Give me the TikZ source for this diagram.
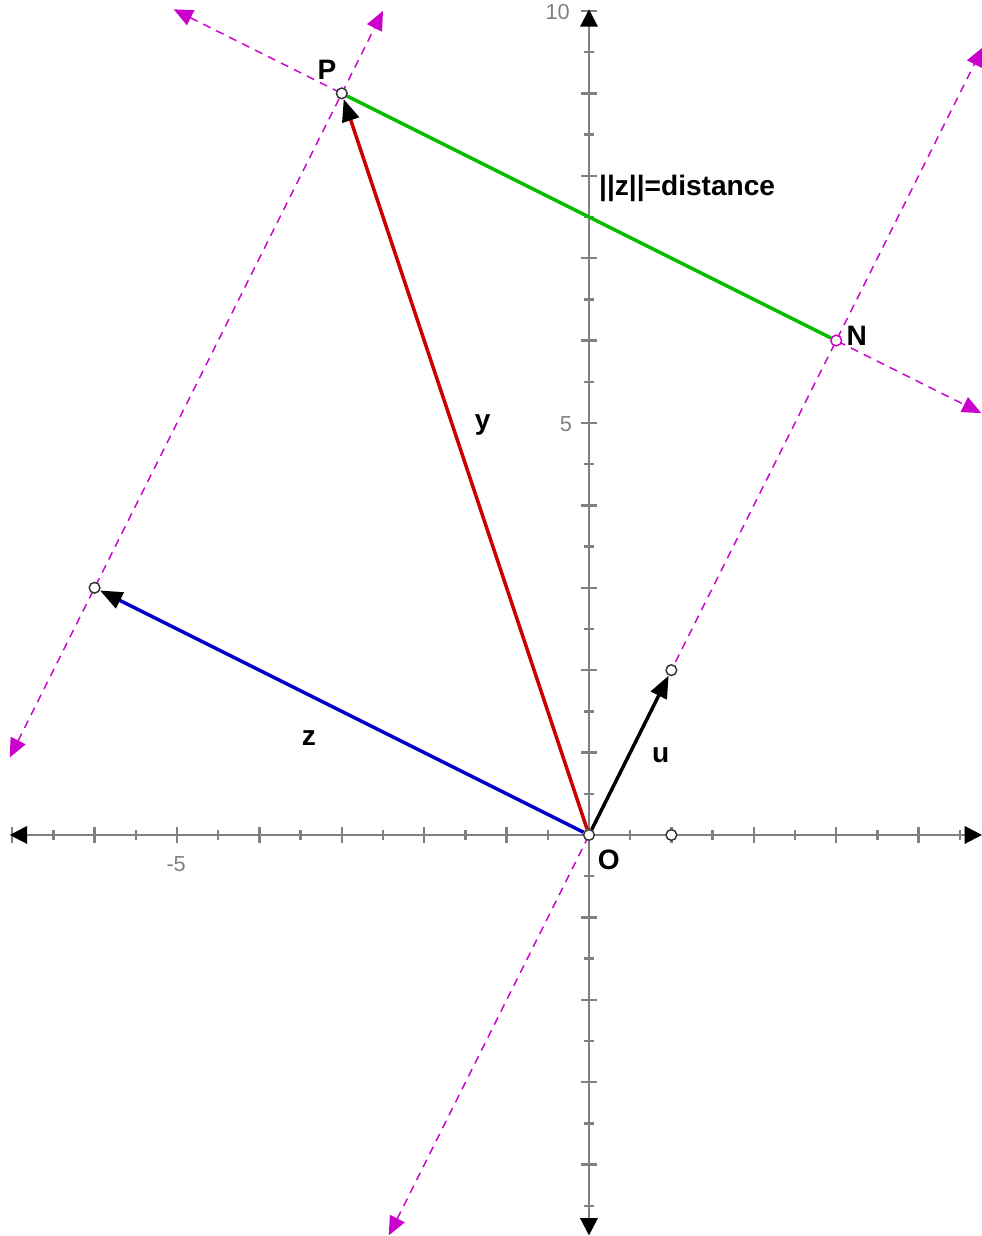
\documentclass[tikz,border=0pt]{standalone}
\usepackage{fontspec}
\setmainfont{Liberation Sans}
\usetikzlibrary{arrows.meta}
\definecolor{axgray}{RGB}{128,128,128}
\definecolor{vecred}{RGB}{204,0,0}
\definecolor{vecblue}{RGB}{0,0,200}
\definecolor{seggreen}{RGB}{0,190,0}
\definecolor{dashmag}{RGB}{204,0,204}

\begin{document}
\begin{tikzpicture}[
    axis/.style={axgray, line width=0.8pt},
    axarrow/.style={axis, {Triangle[length=0.21cm,width=0.21cm,color=black]}-{Triangle[length=0.21cm,width=0.21cm,color=black]}},
    vec/.style={line width=1.2pt, -{Triangle[length=0.27cm,width=0.21cm,color=black]}},
    dline/.style={dashmag, line width=0.5pt, dash pattern=on 2.8pt off 2.2pt, {Triangle[length=0.23cm,width=0.2cm]}-{Triangle[length=0.23cm,width=0.2cm]}},
    pt/.style={circle, draw=black!80, fill=white, inner sep=0pt, minimum size=0.13cm, line width=0.5pt},
    lbl/.style={font=\fontsize{9.7}{12}\selectfont\bfseries},
    tlbl/.style={axgray, font=\fontsize{7.5}{9}\selectfont}]
    \useasboundingbox (-7.148,-4.867) rectangle (4.769,10.133);

    % axes
    \coordinate (xL) at (-7.03,0);
    \coordinate (xR) at (4.77,0);
    \coordinate (yB) at (0,-4.86);
    \coordinate (yT) at (0,10.02);
    \foreach \x in {-7,...,-1,1,2,3,4}
        \draw[axis] (\x,-0.1) -- (\x,0.1);
    \foreach \x in {-6.5,-5.5,...,4.5}
        \draw[axis] (\x,-0.06) -- (\x,0.06);
    \foreach \y in {-4,...,-1,1,2,...,10}
        \draw[axis] (-0.1,\y) -- (0.1,\y);
    \foreach \y in {-4.5,-3.5,...,9.5}
        \draw[axis] (-0.06,\y) -- (0.06,\y);
    \draw[axarrow] (xL) -- (xR);
    \draw[axarrow] (yB) -- (yT);
    \node[tlbl] (tm5) at (-5.01,-0.35) {-5};
    \node[tlbl] (t5) at (-0.28,4.99) {5};
    \node[tlbl] (t10) at (-0.38,9.99) {10};

    % dashed lines
    \coordinate (La) at (-2.43,-4.86);
    \coordinate (Lb) at (4.78,9.56);
    \coordinate (Ma) at (-7.03,0.94);
    \coordinate (Mb) at (-2.5,10.0);
    \coordinate (Ka) at (-5.04,10.02);
    \coordinate (Kb) at (4.76,5.12);
    \draw[dline] (La) -- (Lb);
    \draw[dline] (Ma) -- (Mb);
    \draw[dline] (Ka) -- (Kb);

    % points
    \node[pt] (O) at (0,0) {};
    \node[pt] (E1) at (1,0) {};
    \node[pt] (U) at (1,2) {};
    \node[pt] (P) at (-3,9) {};
    \node[pt] (Z) at (-6,3) {};
    \node[pt, draw=dashmag] (N) at (3,6) {};

    \draw[seggreen, line width=1.2pt] (P) -- (N);
    \draw[vec, vecred] (O) -- (P);
    \draw[vec, vecblue] (O) -- (Z);
    \draw[vec, black] (O) -- (U);

    \node[lbl] (lP) at (-3.18,9.28) {P};
    \node[lbl] (lN) at (3.25,6.06) {N};
    \node[lbl] (lO) at (0.24,-0.30) {O};
    \node[lbl] (ly) at (-1.29,4.97) {y};
    \node[lbl] (lz) at (-3.40,1.18) {z};
    \node[lbl] (lu) at (0.87,0.97) {u};
    \node[lbl, anchor=west] (ldist) at (0.0,7.85) {||z||=distance};
\end{tikzpicture}
\end{document}
